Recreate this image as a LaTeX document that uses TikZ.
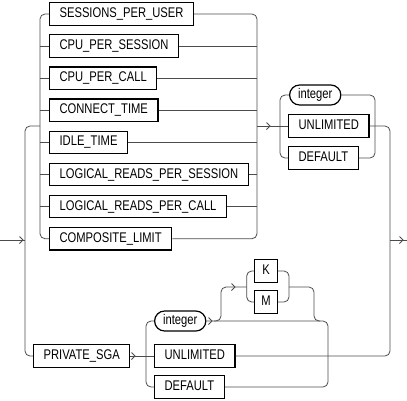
\documentclass[tikz,border=0pt]{standalone}
\usepackage{fontspec}
\setmainfont{Liberation Sans}
\newfontfamily\dfont{Liberation Sans}[FakeStretch=0.8]
\begin{document}
\begin{tikzpicture}[x=1pt,y=-1pt,
 kw/.style={draw=black,line width=1.2pt,fill=white,font=\dfont\fontsize{14}{16}\selectfont,inner xsep=10pt,inner ysep=0pt,minimum height=22.5pt,text height=10pt,text depth=3pt,anchor=west},
 var/.style={kw,rounded corners=10pt,minimum height=20pt,inner xsep=8.5pt},
 km/.style={kw,inner xsep=5pt,minimum width=23pt},
 ln/.style={draw=black!70,line width=0.8pt,rounded corners=5pt},
 chev/.pic={\draw[black!70,line width=0.8pt] (-3.5,-3.5)--(0,0)--(-3.5,3.5);}
]
\useasboundingbox (0,0) rectangle (407,400);
% resource group
\node[kw] (spu) at (49,14) {SESSIONS\_PER\_USER};
\node[kw] (cps) at (49,46.1) {CPU\_PER\_SESSION};
\node[kw] (cpc) at (49,78.2) {CPU\_PER\_CALL};
\node[kw] (ct) at (49,110.3) {CONNECT\_TIME};
\node[kw] (it) at (49,142.4) {IDLE\_TIME};
\node[kw] (lrs) at (49,174.5) {LOGICAL\_READS\_PER\_SESSION};
\node[kw] (lrc) at (49,206.6) {LOGICAL\_READS\_PER\_CALL};
\node[kw] (cl) at (49,238.7) {COMPOSITE\_LIMIT};
% value group 1
\node[var] (int1) at (289,95) {integer};
\node[kw] (unl1) at (288,126) {UNLIMITED};
\node[kw] (def1) at (288,158) {DEFAULT};
% private sga
\node[kw] (psga) at (33,356) {PRIVATE\_SGA};
\node[var] (int2) at (154,321) {integer};
\node[kw] (unl2) at (154,356) {UNLIMITED};
\node[kw] (def2) at (154,387) {DEFAULT};
\node[km] (kk) at (254,271) {K};
\node[km] (mm) at (254,302) {M};
% coordinates
\coordinate (lr) at (40,0);
\coordinate (rr) at (257,0);
\coordinate (or) at (25,0);
\coordinate (mainL) at (40,126);
\coordinate (mainR) at (257,126);
\coordinate (entry) at (0,240);
\coordinate (exit) at (407,240);
\coordinate (lrB) at (280,0);
\coordinate (rrB) at (375,0);
\coordinate (rmain) at (390,0);
\coordinate (lrC) at (146,0);
\coordinate (rrC) at (328,0);
\coordinate (kmL) at (246.7,287);
\coordinate (kmR) at (289,287);
\coordinate (brA) at (214,321);
\coordinate (brX) at (221,0);
\coordinate (brY) at (314,0);
% resource rails
\draw[ln] (spu.west) -- (spu.west -| lr) -- (cl.west -| lr) -- (cl.west);
\foreach \n in {cps,cpc,ct,it,lrs,lrc} \draw[ln] (\n.west -| lr) -- (\n.west);
\draw[ln] (spu.east) -- (spu.east -| rr) -- (cl.east -| rr) -- (cl.east);
\foreach \n in {cps,cpc,ct,it,lrs,lrc} \draw[ln] (\n.east) -- (\n.east -| rr);
% outer rail and entry
\draw[ln] (mainL) -- (mainL -| or) -- (psga.west -| or) -- (psga.west);
\draw[ln] (entry) -- (entry -| or);
\pic at (23,240) {chev};
% group B
\draw[ln] (mainR) -- (unl1.west);
\pic at (270,126) {chev};
\draw[ln] (int1.west) -- (int1.west -| lrB) -- (def1.west -| lrB) -- (def1.west);
\draw[ln] (int1.east) -- (int1.east -| rrB) -- (def1.east -| rrB) -- (def1.east);
\draw[ln] (unl1.east) -- (unl1.east -| rmain) -- (unl2.east -| rmain) -- (unl2.east);
\draw[ln] (exit -| rmain) -- (exit);
\pic at (403,240) {chev};
% group C
\draw[ln] (psga.east) -- (unl2.west);
\pic at (135,356) {chev};
\draw[ln] (int2.west) -- (int2.west -| lrC) -- (def2.west -| lrC) -- (def2.west);
\draw[ln] (int2.east) -- (int2.east -| rrC) -- (def2.east -| rrC) -- (def2.east);
\pic at (212,321) {chev};
% K/M branch
\draw[ln] (brA) -- (brA -| brX) -- (kmL -| brX) -- (kmL);
\pic at (235,287) {chev};
\draw[ln] (kk.west) -- (kk.west -| kmL) -- (mm.west -| kmL) -- (mm.west);
\draw[ln] (kk.east) -- (kk.east -| kmR) -- (mm.east -| kmR) -- (mm.east);
\draw[ln] (kmR) -- (kmR -| brY) -- (int2.east -| brY) -- ++(6,0);
\end{tikzpicture}
\end{document}
